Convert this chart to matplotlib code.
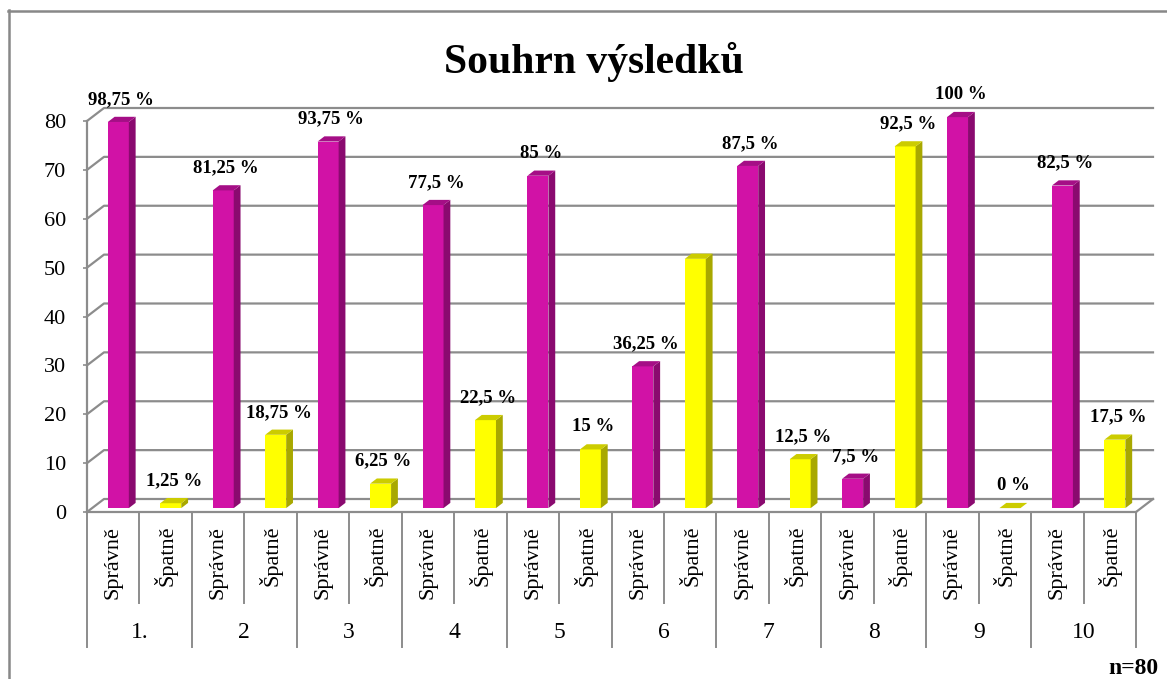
import numpy as np
import matplotlib.pyplot as plt
from matplotlib.patches import Polygon
from matplotlib.lines import Line2D
from matplotlib.transforms import blended_transform_factory

plt.rcParams['font.family'] = ['Liberation Serif', 'DejaVu Serif']

groups = ['1.', '2', '3', '4', '5', '6', '7', '8', '9', '10']
answers = ['Správně', 'Špatně']
spravne = [79, 65, 75, 62, 68, 29, 70, 6, 80, 66]
spatne = [1, 15, 5, 18, 12, 51, 10, 74, 0, 14]
show_label_spatne = [True, True, True, True, True, False, True, True, True, True]
n_total = 80

W, H = 1167, 679
fig = plt.figure(figsize=(W / 100, H / 100), dpi=100)

# front plane of the plot area in pixels
x0, x1 = 87, 1136
y0, y80 = 512, 121
ax = fig.add_axes([x0 / W, 1 - y0 / H, (x1 - x0) / W, (y0 - y80) / H])
nslots = 2 * len(groups)
ax.set_xlim(0, nslots)
ax.set_ylim(0, 80)

sx = (x1 - x0) / nslots      # px per slot
sy = (y0 - y80) / 80         # px per value unit
wall_dx, wall_dy = 17 / sx, 13 / sy      # depth of the back wall
f1, f2 = 0.3, 0.7                        # bar front / back depth fractions
bar_w = 21 / sx

grid_c = '#8C8C8C'

# back wall gridlines with left diagonal
for v in range(0, 81, 10):
    ax.plot([0, wall_dx, nslots + wall_dx], [v, v + wall_dy, v + wall_dy],
            color=grid_c, lw=1.6, clip_on=False, zorder=1)
# floor right edge
ax.plot([nslots, nslots + wall_dx], [0, wall_dy], color=grid_c, lw=1.6, clip_on=False, zorder=1)

for s in ['top', 'right']:
    ax.spines[s].set_visible(False)
ax.spines['left'].set_color(grid_c)
ax.spines['bottom'].set_color(grid_c)
ax.spines['left'].set_linewidth(1.6)
ax.spines['bottom'].set_linewidth(1.6)
ax.set_yticks(range(0, 81, 10))
ax.set_xticks([])
ax.tick_params(axis='y', length=3, color=grid_c, width=1.2, pad=12, labelsize=16)
ax.patch.set_visible(False)

cols = {
    0: ('#D112A6', '#8A0A6F', '#A50E86'),
    1: ('#FFFF00', '#A8A800', '#CCCC00'),
}

def draw_bar(slot, val, kind):
    front, side, top = cols[kind]
    xl = slot + 0.5 - bar_w / 2 + f1 * wall_dx
    yb = f1 * wall_dy
    ddx = (f2 - f1) * wall_dx
    ddy = (f2 - f1) * wall_dy
    ax.bar(xl, val, width=bar_w, bottom=yb, align='edge', color=front,
           lw=0, zorder=3, clip_on=False)
    ax.add_patch(Polygon([(xl + bar_w, yb), (xl + bar_w + ddx, yb + ddy),
                          (xl + bar_w + ddx, yb + ddy + val), (xl + bar_w, yb + val)],
                         closed=True, fc=side, lw=0, zorder=3, clip_on=False))
    ax.add_patch(Polygon([(xl, yb + val), (xl + ddx, yb + ddy + val),
                          (xl + bar_w + ddx, yb + ddy + val), (xl + bar_w, yb + val)],
                         closed=True, fc=top, lw=0, zorder=3, clip_on=False))
    return xl + bar_w / 2, yb + val

def pct(v):
    return '{:g} %'.format(v / n_total * 100).replace('.', ',')

for g in range(len(groups)):
    for kind, vals in enumerate([spravne, spatne]):
        slot = 2 * g + kind
        cx, ty = draw_bar(slot, vals[g], kind)
        if kind == 1 and not show_label_spatne[g]:
            continue
        ax.text(cx + 3 / sx, ty + 18 / sy, pct(vals[g]), ha='center', va='baseline',
                fontsize=13.5, fontweight='bold', zorder=5, clip_on=False)

# category table below the axis
tr = blended_transform_factory(ax.transData, fig.transFigure)
for k in range(nslots + 1):
    bottom = 647 if k % 2 == 0 else 603
    ax.add_line(Line2D([k, k], [1 - y0 / H, 1 - bottom / H], transform=tr,
                       color=grid_c, lw=1.4, clip_on=False))
for k in range(nslots):
    ax.text(k + 0.5, 1 - 526 / H, answers[k % 2], transform=tr, rotation=90,
            ha='center', va='top', fontsize=16)
for g, name in enumerate(groups):
    ax.text(2 * g + 1, 1 - 633 / H, name, transform=tr, ha='center', va='center', fontsize=17)

# title, note and outer border
fig.text(594 / W, 1 - 73 / H, 'Souhrn výsledků', ha='center', va='baseline',
         fontsize=30, fontweight='bold')
fig.text(1158 / W, 1 - 674 / H, 'n=' + str(n_total), ha='right', va='baseline',
         fontsize=17, fontweight='bold')
fig.add_artist(Line2D([8.5 / W, 8.5 / W], [1 - 10 / H, 0], color='#888888', lw=1.8))
fig.add_artist(Line2D([8 / W, 1], [1 - 10.5 / H, 1 - 10.5 / H], color='#888888', lw=1.8))

fig.savefig('out.png', dpi=100)
